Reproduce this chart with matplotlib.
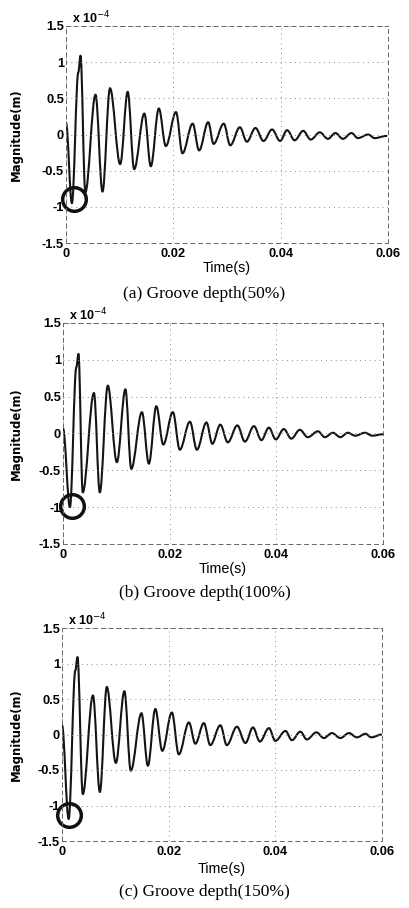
import matplotlib
matplotlib.use("Agg")
import matplotlib.pyplot as plt
from matplotlib.path import Path
from matplotlib.patches import PathPatch

# ---- data (extrema of each waveform, values in units of 1e-4 m) ----
t_a = [0.0000, 0.0011, 0.0023, 0.0027, 0.0036, 0.0055, 0.0068, 0.0082, 0.0101, 0.0115,
       0.0127, 0.0146, 0.0158, 0.0173, 0.0186, 0.0205, 0.0217, 0.0236, 0.0248, 0.0265,
       0.0275, 0.0294, 0.0306, 0.0324, 0.0337, 0.0353, 0.0368, 0.0384, 0.0399, 0.0412,
       0.0426, 0.0442, 0.0456, 0.0473, 0.0488, 0.0502, 0.0516, 0.0532, 0.0544, 0.0563,
       0.0575, 0.0597]
v_a = [0.16, -0.95, 0.86, 1.09, -0.80, 0.55, -0.79, 0.64, -0.41, 0.59,
       -0.48, 0.29, -0.44, 0.36, -0.16, 0.31, -0.26, 0.15, -0.22, 0.17,
       -0.13, 0.15, -0.15, 0.10, -0.10, 0.09, -0.09, 0.07, -0.09, 0.06,
       -0.08, 0.05, -0.07, 0.03, -0.06, 0.02, -0.06, 0.02, -0.05, 0.00,
       -0.05, -0.02]

t_b = [0.0000, 0.0013, 0.0025, 0.0029, 0.0037, 0.0058, 0.0069, 0.0084, 0.0101, 0.0117,
       0.0128, 0.0148, 0.0161, 0.0175, 0.0188, 0.0206, 0.0219, 0.0238, 0.0251, 0.0269,
       0.0280, 0.0295, 0.0309, 0.0327, 0.0341, 0.0358, 0.0372, 0.0386, 0.0399, 0.0414,
       0.0428, 0.0444, 0.0459, 0.0478, 0.0491, 0.0506, 0.0520, 0.0534, 0.0548, 0.0566,
       0.0580, 0.0600]
v_b = [0.07, -1.00, 0.90, 1.08, -0.80, 0.55, -0.80, 0.65, -0.39, 0.60,
       -0.48, 0.29, -0.41, 0.37, -0.15, 0.29, -0.22, 0.16, -0.22, 0.15,
       -0.14, 0.12, -0.12, 0.11, -0.11, 0.10, -0.09, 0.08, -0.08, 0.06,
       -0.07, 0.05, -0.05, 0.03, -0.05, 0.01, -0.05, 0.01, -0.03, 0.01,
       -0.03, -0.01]

t_c = [0.0000, 0.00125, 0.0025, 0.0029, 0.0039, 0.0058, 0.0071, 0.0084, 0.0101, 0.0117,
       0.0129, 0.0149, 0.0161, 0.0175, 0.0188, 0.0206, 0.0219, 0.0238, 0.0250, 0.0266,
       0.0278, 0.0297, 0.0309, 0.0328, 0.0344, 0.0358, 0.0371, 0.0388, 0.0400, 0.0419,
       0.0431, 0.0447, 0.0459, 0.0477, 0.0491, 0.0506, 0.0522, 0.0538, 0.0553, 0.0569,
       0.0580, 0.0600]
v_c = [0.13, -1.19, 0.90, 1.09, -0.84, 0.55, -0.81, 0.67, -0.40, 0.61,
       -0.51, 0.30, -0.44, 0.36, -0.23, 0.31, -0.28, 0.17, -0.13, 0.16,
       -0.15, 0.13, -0.15, 0.11, -0.12, 0.10, -0.10, 0.09, -0.09, 0.05,
       -0.08, 0.04, -0.07, 0.03, -0.05, 0.02, -0.05, 0.02, -0.04, 0.01,
       -0.04, 0.00]

circle_t = [0.00155, 0.0017, 0.0014]
circle_v = [-0.89, -0.99, -1.14]

captions = ["(a) Groove depth(50%)", "(b) Groove depth(100%)", "(c) Groove depth(150%)"]
xticks = [0, 0.02, 0.04, 0.06]
xticklabels = ["0", "0.02", "0.04", "0.06"]
yticks = [-1.5, -1, -0.5, 0, 0.5, 1, 1.5]
yticklabels = ["-1.5", "-1", "-0.5", "0", "0.5", "1", "1.5"]

series = [(t_a, v_a), (t_b, v_b), (t_c, v_c)]

# ---- layout (pixels) ----
W, H = 409, 908
boxes = [(66, 26, 322, 217), (63, 323, 320, 221), (62, 628, 320, 213)]  # left, top, w, h
caption_y = [294, 593, 892]
xlabel_y = [268, 569, 869]
ylabel_x = 23


def smooth_path(t, v, k=0.36):
    verts = [(t[0], v[0])]
    codes = [Path.MOVETO]
    for i in range(len(t) - 1):
        dt = t[i + 1] - t[i]
        verts += [(t[i] + k * dt, v[i]), (t[i + 1] - k * dt, v[i + 1]), (t[i + 1], v[i + 1])]
        codes += [Path.CURVE4] * 3
    return Path(verts, codes)


fig = plt.figure(figsize=(W / 100, H / 100), dpi=100)
fig.patch.set_facecolor("white")
tickfont = dict(family="Liberation Sans", weight="bold", size=9.3)

for i, ((t, v), (l, tp, w, h)) in enumerate(zip(series, boxes)):
    ax = fig.add_axes([l / W, 1 - (tp + h) / H, w / W, h / H])
    ax.set_xlim(0, 0.06)
    ax.set_ylim(-1.5, 1.5)
    patch = PathPatch(smooth_path(t, v), fill=False, edgecolor="#141414", lw=1.5,
                      capstyle="round", joinstyle="round")
    ax.add_patch(patch)
    ax.plot([circle_t[i]], [circle_v[i]], marker="o", ms=17, mfc="none",
            mec="#111111", mew=2.5, clip_on=False)

    ax.set_xticks(xticks)
    ax.set_xticklabels(xticklabels, **tickfont)
    ax.set_yticks(yticks)
    ax.set_yticklabels(yticklabels, **tickfont)
    ax.tick_params(axis="x", length=0, pad=3.5)
    ax.tick_params(axis="y", length=0, pad=1.5)
    ax.grid(True, linestyle=(0, (1, 4)), color="#888888", lw=0.7)
    for s in ax.spines.values():
        s.set_linestyle((0, (4, 4)))
        s.set_color("#666666")
        s.set_linewidth(0.7)

    ax.set_ylabel("Magnitude(m)", family="Liberation Sans Narrow", weight="bold",
                  size=8.4)
    ax.yaxis.set_label_coords((ylabel_x - l) / w, 0.5)
    ax.text(0.02, 1.0, r"x 10$^{-4}$", transform=ax.transAxes,
            family="Liberation Sans", weight="bold", size=9, ha="left", va="bottom")
    fig.text((l + w / 2) / W, 1 - xlabel_y[i] / H, "Time(s)",
             family="Liberation Sans", size=10.3, ha="center", va="center")
    fig.text(0.5, 1 - caption_y[i] / H, captions[i],
             family="Liberation Serif", size=12.5, ha="center", va="center")

fig.savefig("out.png", dpi=100, facecolor="white")
